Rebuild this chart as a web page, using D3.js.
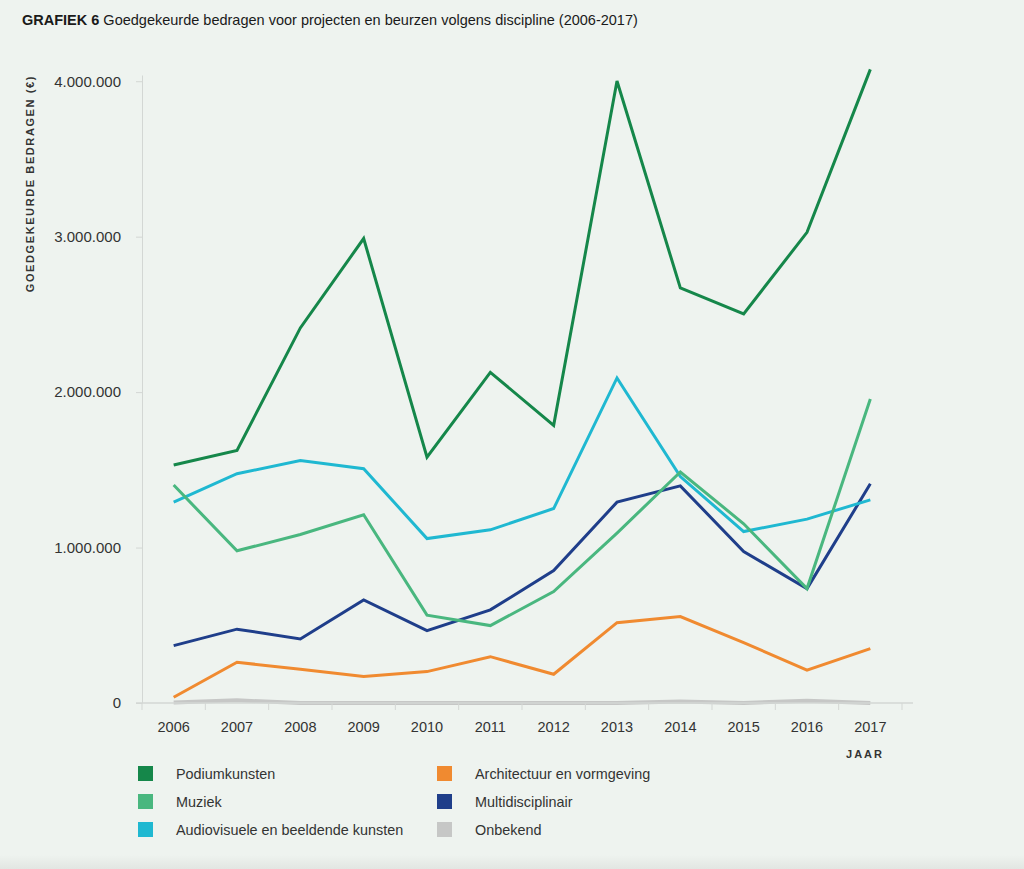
<html>
<head>
	<meta charset="utf-8">
	<title>GRAFIEK 6</title>
	<style>
		body { margin: 0; background: #eef3ef; }
		text { font-family: "Liberation Sans", Arial, Helvetica, sans-serif; }
	</style>
</head>
<body>
	<script src="https://cdnjs.cloudflare.com/ajax/libs/d3/7.8.5/d3.min.js"></script>
	<script type="text/javascript">
		// data (euro)
		var years = ["2006","2007","2008","2009","2010","2011","2012","2013","2014","2015","2016","2017"];
		var podiumkunsten = [1531000,1625000,2413000,2988000,1582000,2127000,1786000,4001000,2670000,2503000,3028000,4076000];
		var muziek = [1402000,979000,1084000,1211000,565000,498000,717000,1093000,1486000,1153000,736000,1956000];
		var audiovisueel = [1292000,1475000,1560000,1507000,1058000,1114000,1251000,2091000,1457000,1103000,1183000,1307000];
		var architectuur = [37000,262000,217000,170000,202000,298000,185000,517000,556000,388000,212000,350000];
		var multidisciplinair = [369000,475000,412000,663000,466000,599000,852000,1292000,1397000,974000,736000,1410000];
		var onbekend = [3000,17000,0,0,0,0,0,0,9000,0,15000,0];
		var yTicks = [0,1000000,2000000,3000000,4000000];

		var seriesNames = ["Podiumkunsten","Muziek","Audiovisuele en beeldende kunsten","Architectuur en vormgeving","Multidisciplinair","Onbekend"];
		var seriesColors = ["#15874a","#49b77f","#1fb8d1","#f08a30","#1f3e8a","#c6c7c6"];
		var seriesValues = [podiumkunsten, muziek, audiovisueel, architectuur, multidisciplinair, onbekend];

		function drawChart(){
			var W = 1024, H = 869;
			var svg = d3.select("body").append("svg")
						.attr("width", W)
						.attr("height", H);

			svg.append("rect").attr("width", W).attr("height", H).style("fill", "#eef3ef");
			// faint shadow band at the bottom edge
			var grad = svg.append("defs").append("linearGradient")
						.attr("id", "bottomshade").attr("x1", 0).attr("x2", 0).attr("y1", 0).attr("y2", 1);
			grad.append("stop").attr("offset", "0%").attr("stop-color", "#eef3ef");
			grad.append("stop").attr("offset", "100%").attr("stop-color", "#e2e6e2");
			svg.append("rect").attr("y", 855).attr("width", W).attr("height", 14).style("fill", "url(#bottomshade)");

			// title
			var title = svg.append("text")
						.attr("x", 22).attr("y", 25)
						.style("font-size", "14.5px")
						.style("fill", "#1a1a1a");
			title.append("tspan").style("font-weight", "bold").text("GRAFIEK 6");
			title.append("tspan").text(" Goedgekeurde bedragen voor projecten en beurzen volgens discipline (2006-2017)");

			var x = d3.scaleBand().domain(years).range([142, 902]).padding(0);
			var y = d3.scaleLinear().domain([0, 4040000]).range([703, 75]);
			var fmt = function(v){ return d3.format(",")(v).replace(/,/g, "."); };

			// y axis
			var yAxis = svg.append("g")
						.attr("transform", "translate(142,0)")
						.call(d3.axisLeft(y).tickValues(yTicks).tickFormat(fmt).tickSize(6).tickSizeOuter(0).tickPadding(15));
			yAxis.select(".domain").style("stroke", "#d3d7d4");
			yAxis.selectAll(".tick line").style("stroke", "#d3d7d4");
			yAxis.selectAll(".tick text")
				.style("font-size", "15px")
				.style("fill", "#333")
				.style("font-family", "\"Liberation Sans\", Arial, sans-serif");

			svg.append("text")
				.attr("transform", "translate(34,75) rotate(-90)")
				.attr("text-anchor", "end")
				.style("font-size", "11px")
				.style("font-weight", "bold")
				.style("letter-spacing", "1.6px")
				.style("fill", "#333")
				.text("GOEDGEKEURDE BEDRAGEN (€)");

			// lines
			var line = d3.line()
						.x(function(d, i){ return x(years[i]) + x.bandwidth()/2; })
						.y(function(d){ return y(d); });

			var order = [5, 3, 4, 2, 1, 0];
			order.forEach(function(k){
				svg.append("path")
					.datum(seriesValues[k])
					.attr("d", line)
					.style("fill", "none")
					.style("stroke", seriesColors[k])
					.style("stroke-width", k == 5 ? "4px" : "3px")
					.style("stroke-linejoin", "miter");
			});

			// x axis (drawn over the lines)
			var xAxis = svg.append("g")
						.attr("transform", "translate(0,703)");
			xAxis.append("line")
				.attr("x1", 136).attr("x2", 913)
				.style("stroke", "#d3d7d4").style("stroke-width", "1.5px");
			xAxis.selectAll("line.tk")
				.data(years.concat(["end"]))
				.enter().append("line")
				.attr("class", "tk")
				.attr("x1", function(d, i){ return i < years.length ? x(d) : x.range()[1]; })
				.attr("x2", function(d, i){ return i < years.length ? x(d) : x.range()[1]; })
				.attr("y1", 0).attr("y2", 7)
				.style("stroke", "#d3d7d4");
			xAxis.selectAll("text")
				.data(years)
				.enter().append("text")
				.attr("x", function(d){ return x(d) + x.bandwidth()/2; })
				.attr("y", 29)
				.attr("text-anchor", "middle")
				.style("font-size", "14.5px")
				.style("fill", "#333")
				.text(function(d){ return d; });

			svg.append("text")
				.attr("x", 884).attr("y", 758)
				.attr("text-anchor", "end")
				.style("font-size", "11px")
				.style("font-weight", "bold")
				.style("letter-spacing", "2px")
				.style("fill", "#333")
				.text("JAAR");

			// legend, two columns of three
			var legend = svg.append("g");
			var items = legend.selectAll("g")
						.data(seriesNames)
						.enter().append("g")
						.attr("transform", function(d, i){
							var col = Math.floor(i/3), row = i % 3;
							return "translate(" + (138 + col*299) + "," + (766 + row*28) + ")";
						});
			items.append("rect")
				.attr("width", 15).attr("height", 15)
				.style("fill", function(d, i){ return seriesColors[i]; });
			items.append("text")
				.attr("x", 38).attr("y", 13)
				.style("font-size", "14.4px")
				.style("fill", "#333")
				.text(function(d){ return d; });
		}
		drawChart();
	</script>
</body>
</html>
